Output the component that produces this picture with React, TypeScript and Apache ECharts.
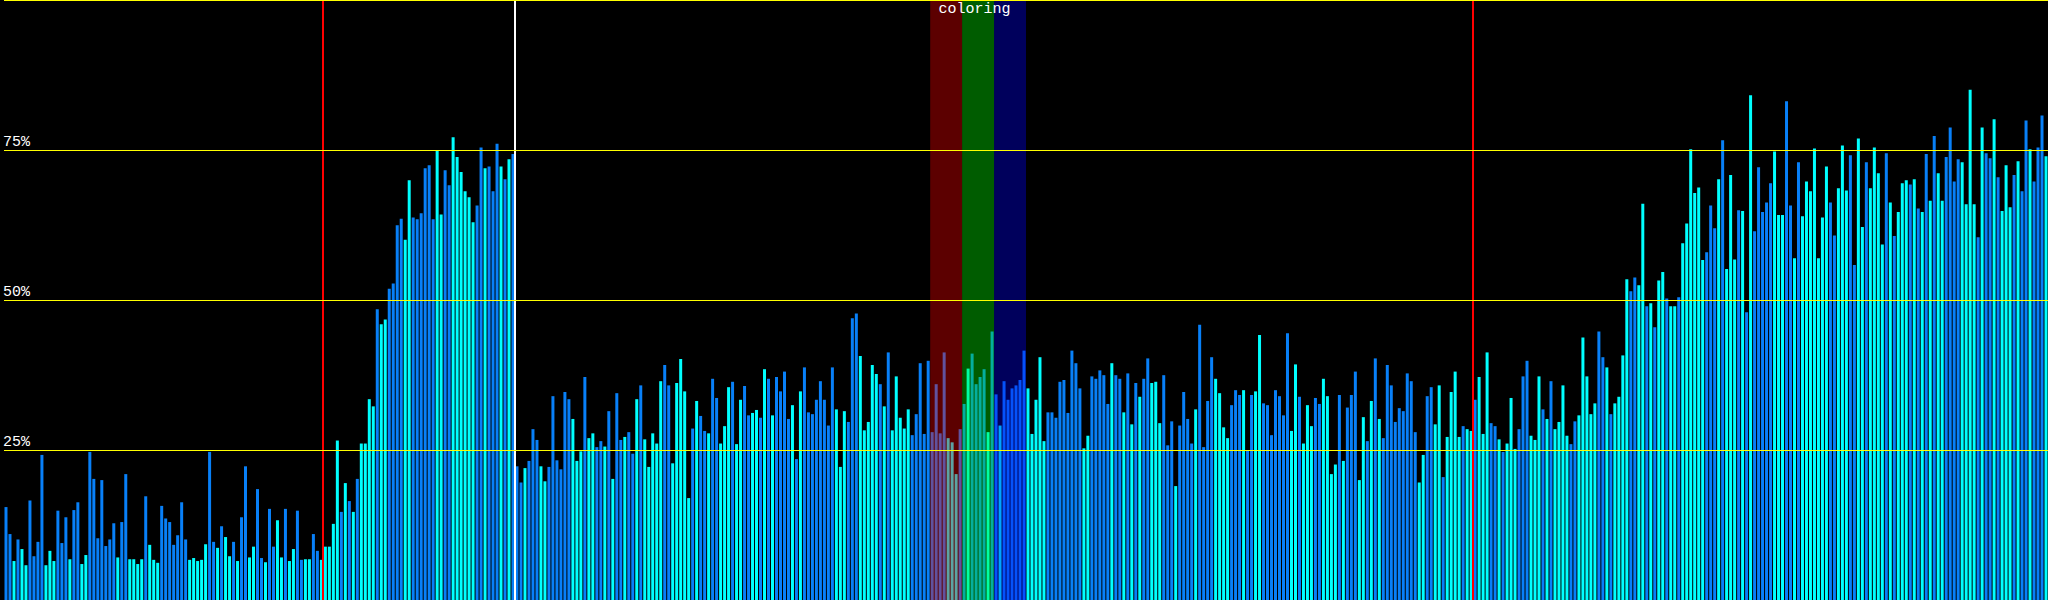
import React, { useEffect, useRef } from "react";
import * as echarts from "echarts";

// Bar heights in percent (512 bars, left to right)
const values: number[] = [
  15.5, 11.0, 6.5, 10.1, 8.5, 5.8, 16.6, 7.3, 9.7, 24.2,
  5.8, 8.2, 6.5, 14.9, 9.5, 13.8, 6.8, 15.0, 16.3, 6.0,
  7.5, 24.7, 20.2, 10.3, 20.0, 9.0, 10.1, 12.8, 7.1, 13.0,
  21.0, 6.8, 6.8, 6.0, 6.8, 17.3, 9.2, 6.7, 6.2, 15.7,
  13.6, 13.0, 9.2, 10.8, 16.3, 10.1, 6.7, 7.0, 6.5, 6.7,
  9.3, 24.7, 9.7, 8.7, 12.3, 10.5, 7.3, 9.7, 6.5, 13.8,
  22.3, 7.1, 8.9, 18.5, 7.0, 6.3, 15.2, 8.9, 13.3, 7.1,
  15.2, 6.5, 8.5, 14.9, 6.7, 6.8, 6.8, 11.0, 8.2, 6.7,
  8.9, 8.9, 12.7, 26.6, 14.7, 19.5, 16.5, 14.7, 20.2, 26.1,
  26.1, 33.5, 32.3, 48.5, 46.0, 46.8, 51.9, 52.8, 62.5, 63.6,
  60.1, 70.0, 63.8, 63.5, 64.5, 72.0, 72.5, 63.5, 74.9, 64.3,
  71.7, 69.2, 77.2, 73.9, 71.4, 68.2, 67.2, 63.0, 65.8, 75.5,
  72.0, 72.3, 68.2, 76.1, 72.3, 70.2, 73.5, 74.4, 22.3, 19.6,
  22.0, 23.2, 28.5, 26.7, 22.3, 19.8, 22.2, 34.0, 23.3, 21.8,
  34.7, 33.5, 30.2, 23.2, 24.8, 37.2, 27.0, 27.8, 25.5, 26.5,
  25.6, 31.5, 20.2, 34.5, 26.7, 27.2, 28.0, 24.4, 33.5, 35.8,
  26.8, 22.2, 27.8, 26.1, 36.5, 39.2, 35.8, 22.8, 36.2, 40.2,
  34.8, 17.0, 28.6, 33.2, 30.7, 28.2, 27.8, 36.9, 33.7, 26.1,
  29.0, 35.5, 36.4, 26.0, 33.4, 35.7, 30.8, 31.2, 31.7, 30.4,
  38.5, 36.9, 30.8, 37.2, 34.8, 38.1, 30.2, 32.5, 23.5, 34.8,
  38.8, 31.3, 31.0, 33.4, 36.5, 33.4, 29.1, 38.8, 31.8, 22.2,
  31.5, 29.7, 47.0, 47.8, 40.7, 28.3, 29.7, 39.2, 37.7, 36.0,
  32.3, 41.3, 28.3, 37.3, 30.4, 28.6, 31.8, 27.5, 31.0, 39.5,
  27.7, 39.9, 28.0, 36.0, 27.8, 41.3, 27.0, 26.3, 21.0, 28.5,
  32.7, 38.6, 41.1, 36.0, 37.2, 38.5, 28.0, 44.8, 34.3, 29.1,
  36.5, 33.4, 35.3, 35.8, 36.7, 41.6, 35.3, 27.7, 33.4, 40.5,
  26.5, 31.3, 31.3, 30.4, 36.4, 36.7, 31.2, 41.6, 39.5, 35.3,
  25.3, 27.4, 37.3, 36.9, 38.3, 37.5, 32.7, 39.5, 37.5, 36.9,
  31.3, 37.8, 29.3, 36.2, 33.9, 36.9, 40.3, 36.2, 36.4, 29.5,
  37.5, 25.8, 29.8, 19.0, 29.1, 34.7, 30.2, 26.1, 31.8, 45.9,
  25.5, 33.2, 40.5, 36.9, 34.5, 28.8, 27.0, 32.5, 35.0, 34.2,
  35.0, 24.9, 34.2, 34.8, 44.2, 32.8, 32.5, 27.5, 35.0, 34.0,
  30.8, 44.5, 28.2, 39.3, 33.9, 26.1, 32.5, 29.0, 33.7, 32.7,
  36.9, 34.0, 21.0, 22.6, 34.2, 23.2, 32.1, 34.2, 38.1, 20.0,
  30.5, 26.5, 33.2, 40.3, 30.2, 27.0, 39.2, 35.8, 29.7, 32.0,
  31.5, 37.8, 36.5, 28.0, 19.6, 24.2, 34.0, 35.5, 29.3, 35.8,
  20.5, 27.2, 34.7, 38.1, 27.2, 29.0, 28.5, 28.2, 33.4, 37.2,
  27.7, 41.3, 29.5, 29.0, 26.8, 24.7, 26.1, 33.7, 25.2, 28.5,
  37.3, 39.9, 27.4, 26.7, 37.3, 31.8, 30.2, 36.5, 28.5, 29.7,
  35.8, 27.4, 26.0, 29.8, 30.8, 43.8, 37.3, 31.0, 32.8, 44.8,
  40.5, 38.8, 31.0, 32.8, 33.9, 40.8, 53.5, 51.5, 53.8, 52.5,
  66.1, 49.0, 49.5, 45.5, 53.3, 54.7, 50.3, 49.0, 49.0, 50.5,
  59.5, 62.8, 75.2, 67.9, 68.8, 56.7, 58.0, 65.8, 62.0, 70.2,
  76.7, 55.2, 70.9, 56.8, 65.0, 64.9, 48.0, 84.2, 61.5, 72.2,
  64.7, 66.3, 69.5, 74.8, 64.2, 64.2, 83.2, 65.8, 57.0, 73.0,
  64.0, 69.8, 68.2, 75.3, 57.0, 63.8, 72.3, 66.3, 60.8, 68.7,
  75.8, 68.3, 74.2, 55.9, 77.0, 62.2, 73.0, 68.7, 75.5, 71.2,
  59.3, 74.5, 66.3, 60.7, 64.7, 69.5, 70.0, 69.3, 70.2, 65.3,
  64.7, 74.4, 66.6, 77.4, 71.2, 66.6, 73.9, 78.8, 69.8, 73.5,
  73.0, 66.0, 85.1, 66.0, 60.5, 78.8, 74.5, 73.7, 80.2, 70.5,
  64.9, 72.5, 65.5, 70.9, 73.2, 68.2, 80.0, 75.2, 69.8, 75.5,
  80.8, 74.0,
];

// Tone of each bar: B = blue, C = cyan
const tones: string[] = (
  "BBCBCCBBBB" + "CCCBBBCBBC" + "CBBBBBBBCB" + "BCCCCBCCCB" + "BBBBBBCCCC" +
  "CBBCBCCBCB" + "BCCBBCBBCC" + "BCCBBCCBBC" + "CCCCBCBCBC" + "CCCBCCBBBB" +
  "CCBBBBBBCC" + "BBCCCCCCBB" + "CBBBCBCBBB" + "CBBBCCBBBB" + "BBCCCBCCBB" +
  "CBCBBCBBCB" + "CCCCCBBCCC" + "CCBCBBCBBC" + "CCBCCBBCCB" + "CBCBBBBCBC" +
  "BBBBBBBBCC" + "CBBBCCCCCB" + "CBCCCCCBBB" + "BBBBBBCCCB" + "BCBBBBCBBC" +
  "BBBBBBCCCC" + "CBBBBBBBBB" + "CCBBBBBCBB" + "CBCBCBBCCC" + "BBBCBBBBCB" +
  "BBBCCCCBBB" + "CBBCCBBBBB" + "BBCCBCCCBB" + "CCCCBCBBBC" + "CBCBCBBBBB" +
  "BBBBCCBBCC" + "BCCCCBCCBC" + "CCBBCBCCCB" + "BBCCCBCBCC" + "CCBBCCCCCB" +
  "BCBCCCCBBC" + "CBCBCCBCCB" + "CCCCCCBBBC" + "BCCCBCBCBB" + "BBBCCCBBCB" +
  "CCCCCCCBBC" + "CCBBCCBCCC" + "CBCBCCCBCB" + "CBCBCCBBBB" + "CCCCBCBBCB" +
  "CCCBCBBCBB" + "BC"
).split("");

const toneColors: Record<string, string> = { B: "#0880f8", C: "#00ffff" };

// Horizontal guide levels (percent)
const guideLevels: number[] = [25, 50, 75, 100];

// Vertical markers at bar-index boundaries
const markerAt: number[] = [80, 128, 368];
const markerColor: string[] = ["#ff0000", "#ffffff", "#ff0000"];

// Highlight bands (bar-index ranges)
const bandFrom: number[] = [232, 240, 248];
const bandTo: number[] = [240, 248, 256];
const bandColor: string[] = [
  "rgba(255,0,0,0.36)",
  "rgba(0,255,0,0.36)",
  "rgba(0,0,255,0.36)",
];
const phaseLabel = { from: 232, to: 256, text: "coloring" };

const FONT = "'Liberation Mono', 'DejaVu Sans Mono', monospace";

export default function App() {
  const ref = useRef<HTMLDivElement>(null);

  useEffect(() => {
    document.body.style.margin = "0";
    document.body.style.background = "#000";
    if (!ref.current) return;
    const chart = echarts.init(ref.current, undefined, { renderer: "svg" });

    const barData = values.map((v, i) => ({
      value: [i + 0.5, v],
      itemStyle: { color: toneColors[tones[i]] || toneColors.B },
    }));

    const option: any = {
      animation: false,
      backgroundColor: "#000",
      grid: { left: 0.5, top: 0.5, width: 2048, height: 600, containLabel: false },
      xAxis: { type: "value", min: 0, max: 512, show: false },
      yAxis: {
        type: "value",
        min: 0,
        max: 100,
        interval: 25,
        axisLine: { show: false },
        axisTick: { show: false },
        splitLine: { show: false },
        axisLabel: {
          inside: true,
          margin: -1,
          verticalAlign: "bottom",
          align: "left",
          color: "#ffffff",
          fontFamily: FONT,
          fontSize: 15,
          lineHeight: 15,
          formatter: (v: number) => (v > 0 && v < 100 ? `${v}%` : ""),
        },
      },
      series: [
        {
          type: "bar",
          data: barData,
          barWidth: 3,
          z: 2,
          markLine: {
            silent: true,
            symbol: "none",
            animation: false,
            label: { show: false },
            data: guideLevels.map((y) => ({
              yAxis: y,
              lineStyle: { color: "#ffff00", width: 1, type: "solid" },
            })),
          },
        },
        {
          type: "custom",
          z: 3,
          silent: true,
          data: bandFrom.map((f, i) => [f, bandTo[i]]),
          renderItem: (params: any, api: any) => {
            const p0 = api.coord([api.value(0), 100]);
            const p1 = api.coord([api.value(1), 0]);
            return {
              type: "rect",
              shape: { x: p0[0], y: p0[1], width: p1[0] - p0[0], height: p1[1] - p0[1] },
              style: { fill: bandColor[params.dataIndex] },
            };
          },
        },
        {
          type: "custom",
          z: 4,
          silent: true,
          data: markerAt.map((x) => [x, 0]),
          renderItem: (params: any, api: any) => {
            const top = api.coord([api.value(0), 100]);
            const bottom = api.coord([api.value(0), 0]);
            const x = Math.floor(top[0]);
            return {
              type: "line",
              shape: { x1: x, y1: top[1] - 1, x2: x, y2: bottom[1] + 1 },
              style: { stroke: markerColor[params.dataIndex], lineWidth: 2 },
            };
          },
        },
        {
          type: "custom",
          z: 6,
          silent: true,
          data: [[phaseLabel.from, phaseLabel.to]],
          renderItem: (params: any, api: any) => {
            const a = api.coord([api.value(0), 100]);
            const b = api.coord([api.value(1), 100]);
            return {
              type: "text",
              x: (a[0] + b[0]) / 2 - 3.5,
              y: a[1] + 1,
              style: {
                text: phaseLabel.text,
                fill: "#ffffff",
                font: `15px ${FONT}`,
                align: "center",
                verticalAlign: "top",
              },
            };
          },
        },
      ],
    };

    chart.setOption(option);
    return () => chart.dispose();
  }, []);

  return <div ref={ref} style={{ width: 2048, height: 600 }} />;
}
